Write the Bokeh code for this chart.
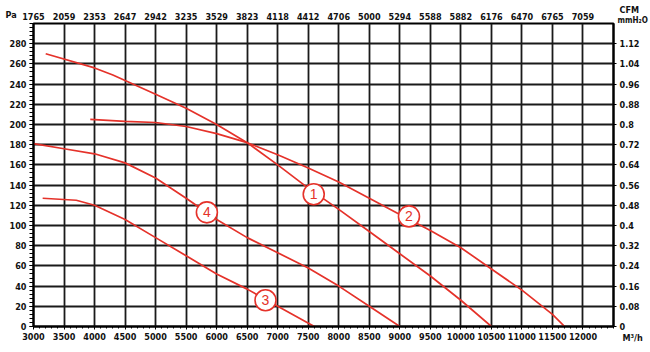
from bokeh.plotting import figure
from bokeh.models import Range1d, LinearAxis, FixedTicker, Label
from bokeh.core.properties import value
from bokeh.embed import file_html
from bokeh.resources import INLINE

# ---- data (airflow m3/h, static pressure Pa) ----
c1_x = [3200, 4000, 4300, 5000, 5500, 6000, 6500, 7000, 7500, 8000, 8500, 9000, 9500, 10000, 10500]
c1_y = [270, 256, 249, 230, 216, 200, 182, 160, 137, 116, 94, 72, 50, 26, 0]

c2_x = [3930, 4500, 5000, 5500, 6000, 6500, 7000, 7500, 8000, 8500, 9000, 9500, 10000, 10500, 11000, 11500, 11700]
c2_y = [205, 203, 202, 198, 191, 182, 170, 157, 143, 127, 111, 95, 78, 57, 36, 12, 0]

c3_x = [3150, 3700, 4000, 4500, 5000, 5500, 6000, 6500, 7000, 7600]
c3_y = [127, 125, 120, 106, 88, 70, 52, 37, 20, 0]

c4_x = [3000, 3500, 4000, 4500, 5000, 5500, 6000, 6500, 7000, 7500, 8000, 8500, 9000]
c4_y = [181, 176, 171, 162, 147, 127, 106, 88, 73, 58, 40, 20, 0]

curve_labels = ["1", "2", "3", "4"]
label_x = [7590, 9150, 6800, 5840]
label_y = [131, 109, 26, 113]

x_ticks = list(range(3000, 12001, 500))
x_grid = list(range(3000, 12501, 500))
y_ticks = list(range(0, 281, 20))
y_grid = list(range(0, 301, 20))
cfm_labels = ["1765", "2059", "2353", "2647", "2942", "3235", "3529", "3823", "4118", "4412",
              "4706", "5000", "5294", "5588", "5882", "6176", "6470", "6765", "7059"]
mmh2o_labels = ["0", "0.08", "0.16", "0.24", "0.32", "0.4", "0.48", "0.56", "0.64", "0.72",
                "0.8", "0.88", "0.96", "1.04", "1.12"]

RED = "#e5322a"
GRID = "#1a1a1a"
FONT = "DejaVu Sans Condensed"

p = figure(width=650, height=352, frame_width=580, frame_height=303,
           output_backend="svg", toolbar_location=None,
           x_range=Range1d(3000, 12500), y_range=Range1d(0, 300),
           min_border_left=33, min_border_right=37, min_border_top=23, min_border_bottom=26,
           x_axis_location=None, y_axis_location=None)
p.background_fill_color = "white"
p.border_fill_color = "white"
p.outline_line_color = "black"
p.outline_line_width = 2

# grid
p.xgrid.ticker = FixedTicker(ticks=x_grid)
p.ygrid.ticker = FixedTicker(ticks=y_grid)
for g in (p.xgrid, p.ygrid):
    g.grid_line_color = GRID
    g.grid_line_width = 1.8
    g.grid_line_alpha = 1.0


def style_axis(ax):
    ax.major_label_text_font = FONT
    ax.major_label_text_font_size = "9px"
    ax.major_label_text_font_style = "bold"
    ax.major_label_text_color = "#111"
    ax.axis_line_color = "black"
    ax.axis_line_width = 2
    ax.major_tick_line_color = "black"
    ax.minor_tick_line_color = "black"


# bottom axis
bx = LinearAxis(ticker=FixedTicker(ticks=x_ticks,
                                   minor_ticks=list(range(3000, 12501, 100))))
style_axis(bx)
bx.major_tick_in = 0
bx.major_tick_out = 3
bx.minor_tick_in = 0
bx.minor_tick_out = 2
bx.major_label_standoff = 3
p.add_layout(bx, "below")

# top axis (CFM)
tx = LinearAxis(ticker=FixedTicker(ticks=x_ticks),
                major_label_overrides={t: s for t, s in zip(x_ticks, cfm_labels)})
style_axis(tx)
tx.axis_line_color = None
tx.major_tick_line_color = None
tx.minor_tick_line_color = None
tx.major_tick_out = 0
tx.major_label_standoff = 4
p.add_layout(tx, "above")

# left axis (Pa)
ly = LinearAxis(ticker=FixedTicker(ticks=y_ticks, minor_ticks=list(range(0, 301, 4))))
style_axis(ly)
ly.major_tick_in = 0
ly.major_tick_out = 4
ly.minor_tick_in = 0
ly.minor_tick_out = 4
ly.major_label_standoff = 3
p.add_layout(ly, "left")

# right axis (mmH2O)
ry = LinearAxis(ticker=FixedTicker(ticks=y_ticks),
                major_label_overrides={t: s for t, s in zip(y_ticks, mmh2o_labels)})
style_axis(ry)
ry.major_tick_in = 0
ry.major_tick_out = 3
ry.major_label_standoff = 3
p.add_layout(ry, "right")

# curves
for xs, ys in ((c1_x, c1_y), (c2_x, c2_y), (c3_x, c3_y), (c4_x, c4_y)):
    p.line(xs, ys, line_color=RED, line_width=1.7)

# curve number markers
p.scatter(label_x, label_y, size=21, marker="circle", fill_color="white",
          line_color=RED, line_width=1.6)
p.text(label_x, label_y, text=curve_labels, text_color=RED, text_align="center",
       text_baseline="middle", text_font=value("Liberation Sans"), text_font_size="14px")

# unit labels (canvas coords); hosted in the bottom side panel so they are not clipped
for txt, x, y, fs in (("Pa", 5, 14, "9px"), ("CFM", 619, 9, "9px"),
                      ("mmH\u2082O", 617, 20, "8px"), ("M\u00b3/h", 622, 337, "9px")):
    p.add_layout(Label(x=x, y=y, x_units="canvas", y_units="canvas", text=txt,
                       text_font=FONT, text_font_size=fs, text_font_style="bold",
                       text_color="#111", text_baseline="middle"), "below")

open("out.html", "w").write(file_html(p, INLINE))
